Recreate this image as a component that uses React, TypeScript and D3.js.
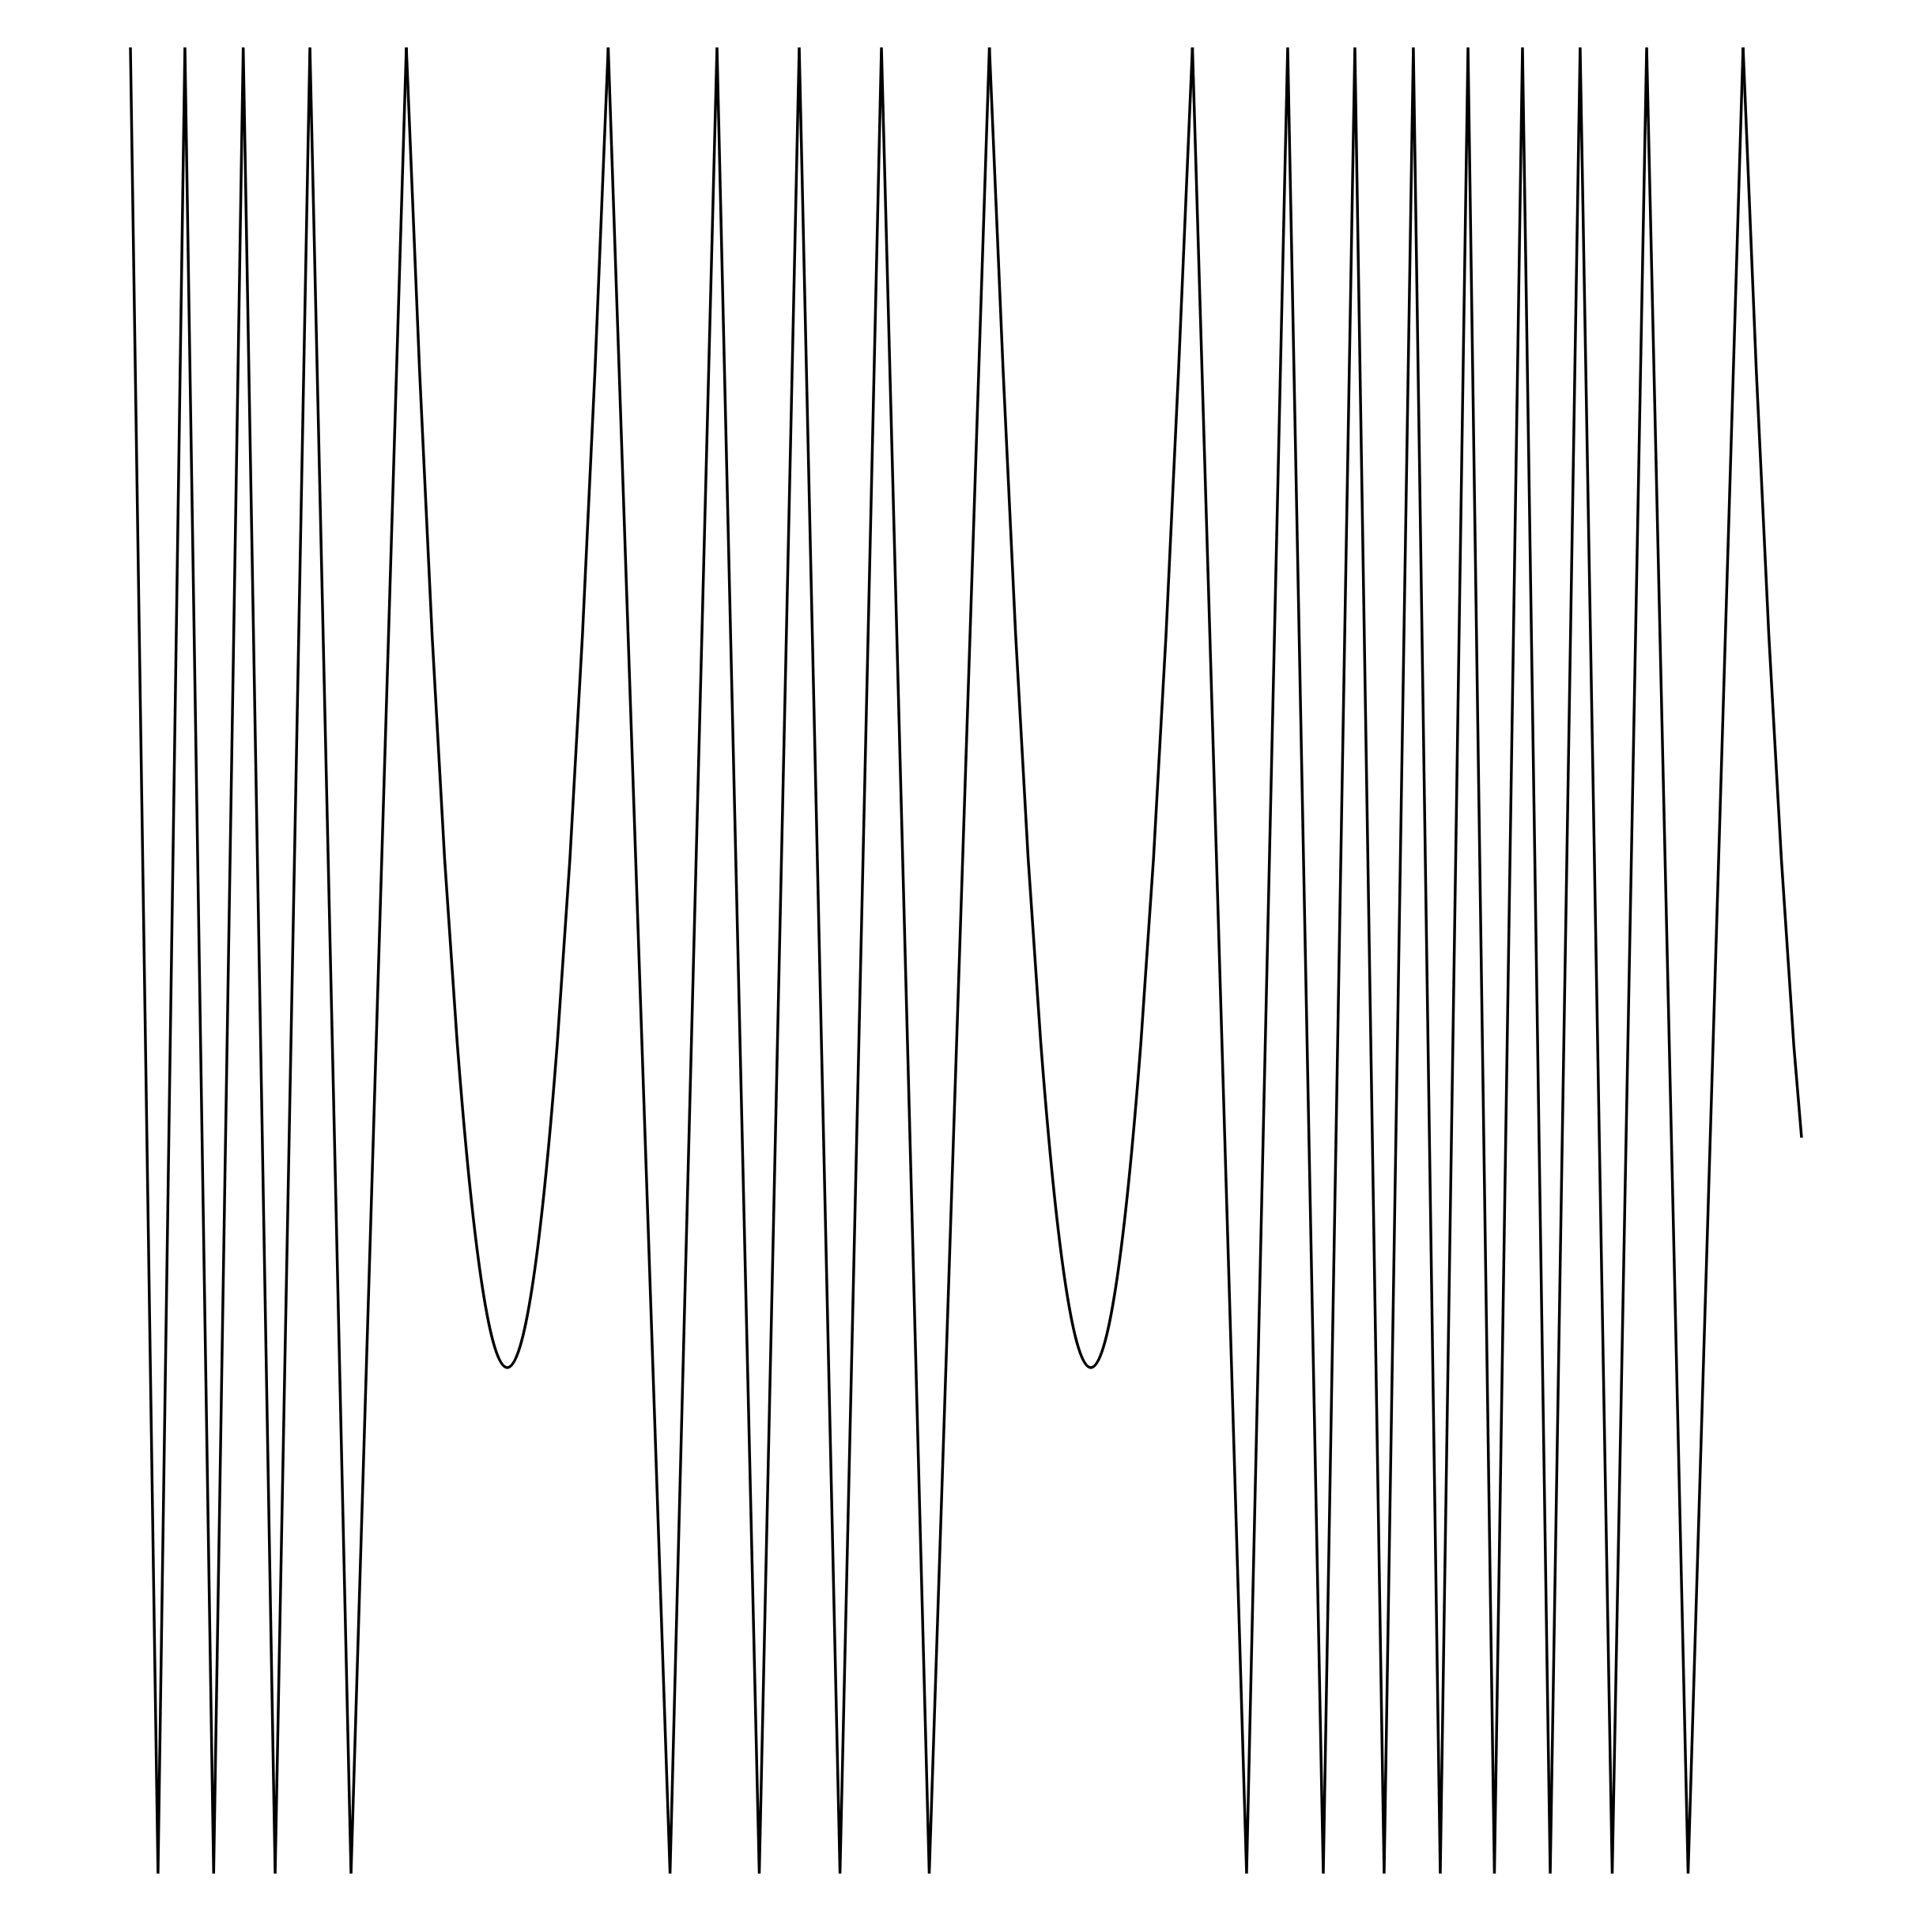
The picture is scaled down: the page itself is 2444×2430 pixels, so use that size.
import React, { useEffect } from "react";
import * as d3 from "d3";

// Chart canvas
const WIDTH = 2444;
const HEIGHT = 2430;

// x in data units (0..100), y in data units (0 = bottom of plot, 100 = top of plot)
const startPoint: [number, number] = [0, 100];

// top turning points (y = 100)
const peaksX = [
  3.26, 6.75, 10.74, 16.51, 28.59, 35.1, 40.02, 44.94, 51.4, 63.55, 69.25, 73.27,
  76.77, 80.04, 83.3, 86.75, 90.73, 96.5,
];

// bottom turning points (y = 0)
const troughsX = [
  1.65, 4.98, 8.66, 13.2, 32.29, 37.63, 42.46, 47.8, 66.79, 71.38, 75.02, 78.38,
  81.62, 84.96, 88.67, 93.21,
];

// rounded valleys
const valley1: [number, number][] = [
  [16.51, 100], [17.3, 82.33], [18.05, 67.84], [18.8, 55.58], [19.55, 45.55],
  [20.3, 37.74], [21.05, 32.17], [21.8, 28.82], [22.55, 27.71], [23.3, 28.82],
  [24.05, 32.17], [24.8, 37.74], [25.55, 45.55], [26.3, 55.58], [27.05, 67.84],
  [27.8, 82.33], [28.59, 100],
];
const valley2: [number, number][] = [
  [51.4, 100], [52.22, 82.33], [52.97, 67.84], [53.72, 55.58], [54.47, 45.55],
  [55.22, 37.74], [55.97, 32.17], [56.72, 28.82], [57.47, 27.71], [58.22, 28.82],
  [58.97, 32.17], [59.72, 37.74], [60.47, 45.55], [61.22, 55.58], [61.97, 67.84],
  [62.72, 82.33], [63.55, 100],
];
// final arc, ending mid-height on the right
const tailArc: [number, number][] = [
  [96.5, 100], [97.29, 82.33], [98.04, 67.84], [98.79, 55.58], [99.54, 45.3],
  [100, 40.3],
];

const margin = { top: 60, right: 165, bottom: 60, left: 165 };

export default function App() {
  useEffect(() => {
    document.body.style.margin = "0";
  }, []);

  const x = d3.scaleLinear().domain([0, 100]).range([margin.left, WIDTH - margin.right]);
  const y = d3.scaleLinear().domain([0, 100]).range([HEIGHT - margin.bottom, margin.top]);

  // zig-zag vertices
  const zig: [number, number][] = [
    startPoint,
    ...peaksX.map((v) => [v, 100] as [number, number]),
    ...troughsX.map((v) => [v, 0] as [number, number]),
  ].sort((a, b) => a[0] - b[0]);

  const v1Start = valley1[0][0];
  const v1End = valley1[valley1.length - 1][0];
  const v2Start = valley2[0][0];
  const v2End = valley2[valley2.length - 1][0];
  const tStart = tailArc[0][0];
  const runs = [
    zig.filter((p) => p[0] <= v1Start),
    zig.filter((p) => p[0] >= v1End && p[0] <= v2Start),
    zig.filter((p) => p[0] >= v2End && p[0] <= tStart),
  ];

  const lineStraight = d3
    .line<[number, number]>()
    .x((d) => x(d[0]))
    .y((d) => y(d[1]))
    .curve(d3.curveLinear);
  const lineSmooth = d3
    .line<[number, number]>()
    .x((d) => x(d[0]))
    .y((d) => y(d[1]))
    .curve(d3.curveMonotoneX);

  return (
    <svg width={WIDTH} height={HEIGHT} style={{ display: "block", background: "#fff" }}>
      <defs>
        <clipPath id="plotClip">
          <rect x={0} y={y(100)} width={WIDTH} height={y(0) - y(100)} />
        </clipPath>
      </defs>
      <g clipPath="url(#plotClip)" fill="none" stroke="#000" strokeWidth={3.5}>
        {runs.map((r, i) => (
          <path key={"s" + i} d={lineStraight(r) || ""} />
        ))}
        <path d={lineSmooth(valley1) || ""} />
        <path d={lineSmooth(valley2) || ""} />
        <path d={lineSmooth(tailArc) || ""} />
      </g>
    </svg>
  );
}
